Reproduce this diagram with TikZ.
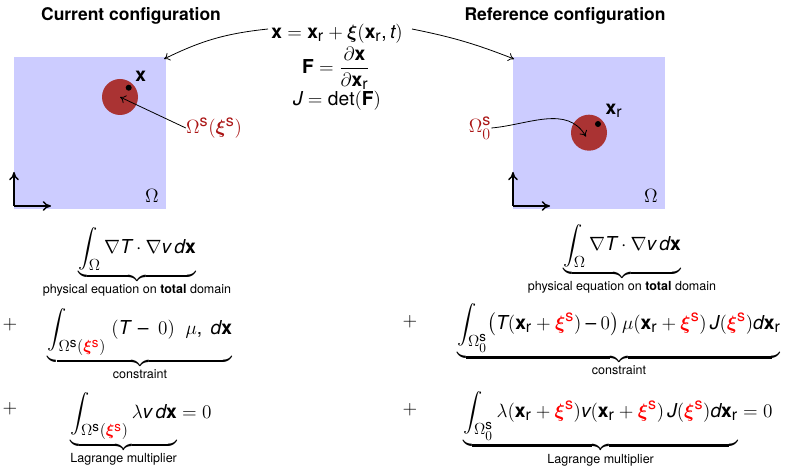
\documentclass[tikz,border=0pt]{standalone}
\usepackage{amsmath,amssymb,bm}
\usepackage{fontspec}
\setmainfont{TeX Gyre Heros}
\usepackage[italic]{mathastext}
\usepackage{xcolor}
\usetikzlibrary{arrows.meta,positioning,calc}
\definecolor{domainblue}{RGB}{204, 204, 255}
\definecolor{solidred}{RGB}{170, 51, 51}
\definecolor{labelred}{RGB}{170, 20, 20}
\newcommand{\xis}{\textcolor{red}{\bm{\xi}^{\mathrm{s}}}}
\newcommand{\xr}{\mathbf{x}_{\mathrm{r}}}
\newcommand{\bracelabel}[1]{\mbox{\fontsize{9.4}{11}\selectfont #1}}

\begin{document}
\begin{tikzpicture}[
  x=0.75pt, y=-0.75pt,
  titletext/.style={font=\fontsize{13.1}{15}\selectfont\bfseries},
  eqn/.style={font=\fontsize{14.4}{17}\selectfont, inner sep=0pt},
  domainbox/.style={fill=domainblue, draw=none},
  solidbody/.style={circle, fill=solidred, minimum size=36pt*0.75, inner sep=0pt},
  pointdot/.style={circle, fill=black, minimum size=6pt*0.75, inner sep=0pt},
  axisarrow/.style={-{To[length=2.2mm,width=2.6mm]}, line width=1.1pt},
  pointer/.style={-{To[length=1.5mm,width=2.2mm]}, line width=0.6pt}
]
\useasboundingbox (0,0) rectangle (793,466);

\node[titletext] (curtitle) at (131,16) {Current configuration};
\node[titletext] (reftitle) at (565,16) {Reference configuration};

% current configuration
\fill[domainbox] (14,57) rectangle (166,209);
\coordinate (curcorner) at (164,59);
\node[solidbody] (cursolid) at (120,97) {};
\node[pointdot] (curdot) at (128.7,87.7) {};
\node[eqn] (curx) at (140.7,76) {$\mathbf{x}$};
\node[eqn, text=labelred] (curlabel) at (214,128) {$\Omega^{\mathrm{s}}(\bm{\xi}^{\mathrm{s}})$};
\node[eqn] (curomega) at (152,196) {$\Omega$};
\coordinate (curorigin) at (14,206);
\draw[axisarrow] (curorigin) -- ++(0,-34);
\draw[axisarrow] (curorigin) -- ++(37,0);
\draw[pointer] (curlabel.west) -- (cursolid.center);

% reference configuration
\fill[domainbox] (513,57) rectangle (665,209);
\coordinate (refcorner) at (514,59);
\node[solidbody] (refsolid) at (589,132.7) {};
\node[pointdot] (refdot) at (598,124) {};
\node[eqn] (refx) at (614,111) {$\xr$};
\node[eqn, text=labelred] (reflabel) at (480,128) {$\Omega^{\mathrm{s}}_0$};
\node[eqn] (refomega) at (651,196) {$\Omega$};
\coordinate (reforigin) at (513,206);
\draw[axisarrow] (reforigin) -- ++(0,-34);
\draw[axisarrow] (reforigin) -- ++(37,0);
\draw[pointer] (reflabel.east) to[out=5, in=120] ($(refsolid.center)+(-3,4)$);

% mapping
\node[eqn] (mapx) at (337,34) {$\mathbf{x} = \xr + \bm{\xi}(\xr,t)$};
\node[eqn] (mapF) at (336,68) {$\mathbf{F} = \dfrac{\partial\mathbf{x}}{\partial\xr}$};
\node[eqn] (mapJ) at (337,101) {$J = \det(\mathbf{F})$};
\coordinate (mapleft) at (268,29);
\coordinate (mapright) at (412,29);
\draw[pointer] (mapleft) to[bend right=10] (curcorner);
\draw[pointer] (mapright) to[bend left=5] (refcorner);

% weak form, current configuration
\node[eqn, anchor=north] (curphys) at (137,227) {$\displaystyle\underbrace{\int_\Omega \nabla T\cdot\nabla v\,d\mathbf{x}}_{\bracelabel{physical equation on \textbf{total} domain}}$};
\node[eqn] (curplusa) at (10,325) {$+$};
\node[eqn, anchor=north] (curcons) at (140,308) {$\displaystyle\underbrace{\int_{\Omega^{\mathrm{s}}(\xis)}\; (T\,-\;0)\;\;\mu,\;d\mathbf{x}}_{\bracelabel{constraint}}$};
\node[eqn] (curplusb) at (10,409) {$+$};
\node[eqn, anchor=north] (curlagr) at (141,392) {$\displaystyle\underbrace{\int_{\Omega^{\mathrm{s}}(\xis)}\lambda v\,d\mathbf{x}}_{\bracelabel{Lagrange multiplier}} = 0$};

% weak form, reference configuration
\node[eqn, anchor=north] (refphys) at (622,224) {$\displaystyle\underbrace{\int_\Omega \nabla T\cdot\nabla v\,d\mathbf{x}}_{\bracelabel{physical equation on \textbf{total} domain}}$};
\node[eqn] (refplusa) at (410,322) {$+$};
\node[eqn, anchor=north] (refcons) at (619,303) {$\displaystyle\underbrace{\int_{\Omega^{\mathrm{s}}_0} \bigl(T(\xr+\xis)-0\bigr)\,\mu(\xr+\xis)\,J(\xis)d\xr}_{\bracelabel{constraint}}$};
\node[eqn] (refplusb) at (410,410) {$+$};
\node[eqn, anchor=north] (reflagr) at (618,391) {$\displaystyle\underbrace{\int_{\Omega^{\mathrm{s}}_0} \lambda(\xr+\xis)v(\xr+\xis)\,J(\xis)d\xr}_{\bracelabel{Lagrange multiplier}} = 0$};
\end{tikzpicture}
\end{document}
